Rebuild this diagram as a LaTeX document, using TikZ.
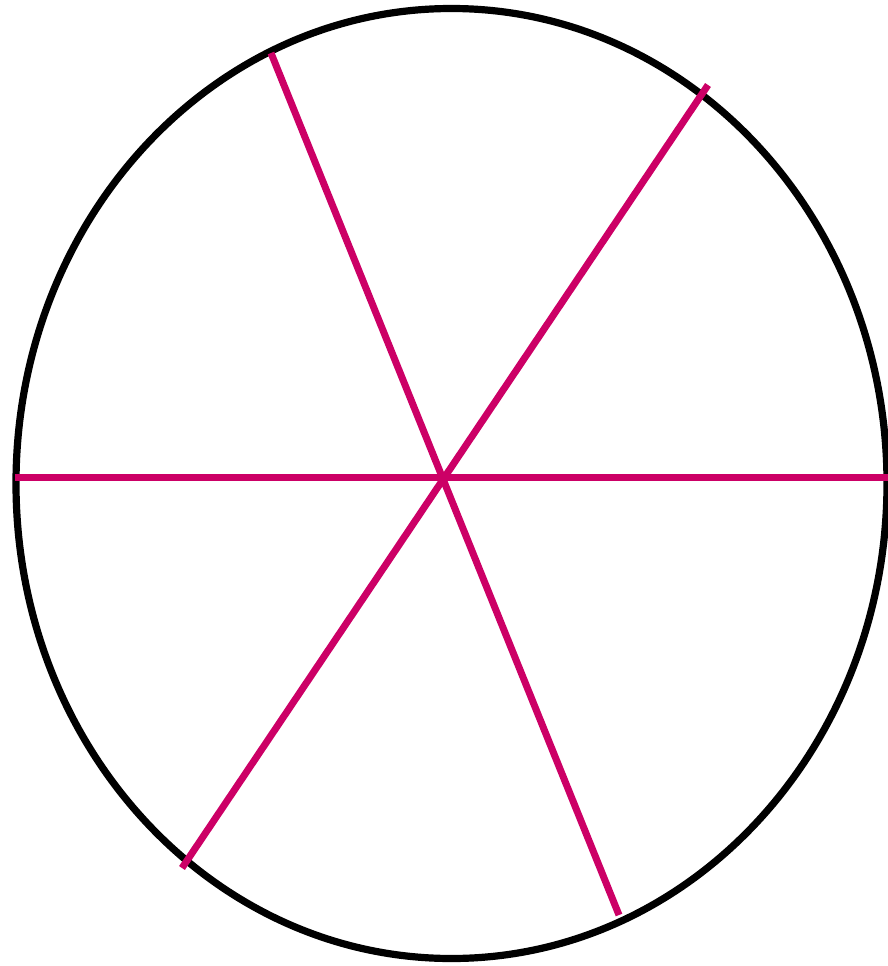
\documentclass[tikz,border=0pt]{standalone}
\definecolor{spoke}{RGB}{204,0,102}
\begin{document}
\begin{tikzpicture}[x=1pt,y=-1pt,
  rim/.style={draw=black,line width=7.2pt},
  spokeline/.style={draw=spoke,line width=7pt}]
\useasboundingbox (0,0) rectangle (888,966);
\coordinate (c) at (451.5,483.5);
\coordinate (L) at (15,477);
\coordinate (R) at (890,477);
\coordinate (A1) at (271,53);
\coordinate (A2) at (619,915);
\coordinate (B1) at (708,85);
\coordinate (B2) at (182,868);
\draw[rim] (c) ellipse [x radius=435.5, y radius=475];
\draw[spokeline] (L) -- (R);
\draw[spokeline] (A1) -- (A2);
\draw[spokeline] (B1) -- (B2);
\end{tikzpicture}
\end{document}
